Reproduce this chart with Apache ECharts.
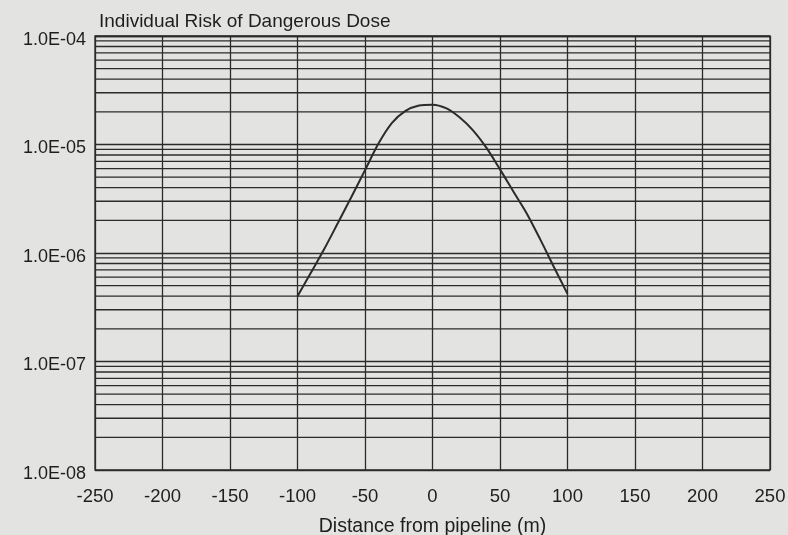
<!DOCTYPE html>
<html>
<head>
<meta charset="utf-8">
<script src="https://cdn.jsdelivr.net/npm/echarts@6/dist/echarts.min.js"></script>
<style>
  html, body { margin: 0; padding: 0; background: #e3e3e1; }
  #chart { width: 788px; height: 535px; }
</style>
</head>
<body>
<div id="chart"></div>
<script>
// distance from pipeline (m) and individual risk
const distances = [-100, -90, -80, -70, -60, -50, -40, -30, -20, -10, 0, 10, 20, 30, 40, 50, 60, 70, 80, 90, 100]
const risk = [4.0e-7, 6.6e-7, 1.1e-6, 1.9e-6, 3.3e-6, 5.8e-6, 1.02e-5, 1.58e-5, 2.04e-5, 2.29e-5, 2.33e-5, 2.16e-5, 1.78e-5, 1.35e-5, 9.3e-6, 5.9e-6, 3.67e-6, 2.29e-6, 1.32e-6, 7.4e-7, 4.2e-7]
const yTickLabels = ['1.0E-08', '1.0E-07', '1.0E-06', '1.0E-05', '1.0E-04']
const decades = [-8, -7, -6, -5]
const minorSteps = [2, 3, 4, 5, 6, 7, 8, 9]

const ink = '#2b2b2b'
const font = 'Liberation Sans, Arial, sans-serif'

// log paper: a thin line at 2..9 of every decade
const gridSeries = []
decades.forEach((d) => {
  minorSteps.forEach((m) => {
    const v = m * Math.pow(10, d)
    gridSeries.push({
      type: 'line',
      silent: true,
      showSymbol: false,
      data: [[-250, v], [250, v]],
      lineStyle: { color: ink, width: 1.3 },
      z: 1,
    })
  })
})

const chart = echarts.init(document.getElementById('chart'))
chart.setOption({
  animation: false,
  backgroundColor: '#e3e3e1',
  title: {
    text: 'Individual Risk of Dangerous Dose',
    left: 94,
    top: 7,
    textStyle: { fontFamily: font, fontSize: 19, fontWeight: 'normal', color: '#1e1e1e' },
  },
  grid: {
    left: 95,
    right: 18,
    top: 36,
    bottom: 65,
    outerBoundsMode: 'none',
    containLabel: false,
    show: true,
    borderColor: ink,
    borderWidth: 1.3,
    backgroundColor: 'transparent',
  },
  xAxis: {
    type: 'value',
    min: -250,
    max: 250,
    interval: 50,
    name: 'Distance from pipeline (m)',
    nameLocation: 'middle',
    nameGap: 47,
    nameTextStyle: { fontFamily: font, fontSize: 19.5, color: '#1e1e1e' },
    axisLine: { show: false },
    axisTick: { show: false },
    axisLabel: { fontFamily: font, fontSize: 18.5, color: '#1e1e1e', margin: 17 },
    splitLine: { show: true, lineStyle: { color: ink, width: 1.3 } },
  },
  yAxis: {
    type: 'log',
    logBase: 10,
    min: 1e-8,
    max: 1e-4,
    axisLine: { show: false },
    axisTick: { show: false },
    axisLabel: {
      color: '#1e1e1e',
      margin: 9,
      formatter: (v) => '{t|' + yTickLabels[Math.round(Math.log10(v)) + 8] + '}',
      rich: {
        t: { fontFamily: font, fontSize: 18, color: '#1e1e1e', padding: [8, 0, 0, 0] },
      },
    },
    splitLine: { show: true, lineStyle: { color: ink, width: 1.3 } },
  },
  series: gridSeries.concat([
    {
      type: 'line',
      data: distances.map((x, i) => [x, risk[i]]),
      smooth: 0.3,
      showSymbol: false,
      lineStyle: { color: ink, width: 2 },
      z: 3,
    },
  ]),
})
</script>
</body>
</html>
